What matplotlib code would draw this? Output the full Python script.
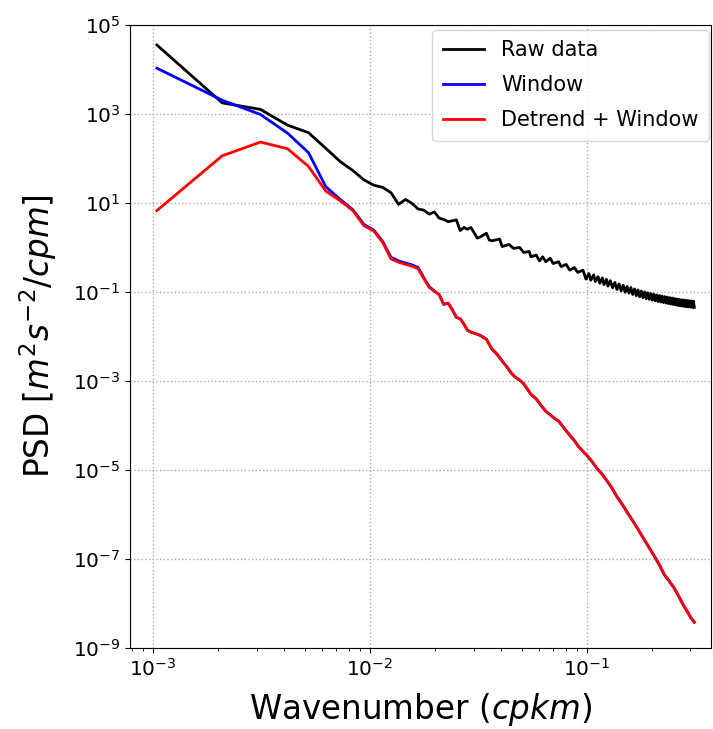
import numpy as np
import matplotlib
matplotlib.use("Agg")
import matplotlib.pyplot as plt
from matplotlib.ticker import NullLocator

# wavenumber spacing (cycles per km), spectra are given at index n
dk = 1.0 / 960.0

# raw data spectrum
raw_n = [1, 2, 3, 4, 5, 6, 7, 8, 9, 10, 11, 12, 13, 14, 15, 16, 17, 18, 19, 20,
         21, 22, 23, 24, 25, 26, 27, 28, 29, 30, 31, 33, 34, 35, 38, 39, 42, 44,
         47, 49, 52, 53, 56, 58, 60, 62, 65, 67, 71, 73, 77, 80, 84, 87, 92,
         95, 98, 100, 103, 105, 108, 110, 113, 115, 118, 120, 123, 126, 129,
         132, 135, 138, 141, 144, 147, 150,
         153, 156, 159, 162, 165, 168, 171, 174, 177, 180, 183, 186, 189, 192,
         195, 198, 201, 204, 207, 210, 213, 216, 219, 222, 225, 228, 231, 234,
         237, 240, 243, 246, 249, 252, 255, 258, 261, 264, 267, 270, 273, 276,
         279, 282, 285, 288, 291, 294, 297, 300]
raw_psd = [3.55e4, 1.78e3, 1.27e3, 5.62e2, 3.80e2, 1.70e2, 85.1, 53.7, 33.1, 25.1,
           22.4, 17.0, 9.33, 12.0, 9.77, 7.33, 6.92, 5.62, 6.31, 4.57,
           4.27, 3.80, 3.98, 4.17, 2.40, 2.82, 2.57, 2.82, 2.14, 1.62,
           1.74, 2.09, 1.48, 1.41, 1.55, 1.05, 1.17, 0.955,
           1.00, 0.776, 0.813, 0.617, 0.676, 0.501, 0.617, 0.479, 0.575, 0.437,
           0.479, 0.372, 0.417, 0.309, 0.355, 0.275, 0.309,
           0.195, 0.260, 0.184, 0.243, 0.172, 0.221, 0.157, 0.207, 0.146, 0.193,
           0.136, 0.180, 0.124, 0.164, 0.114, 0.151, 0.106, 0.141, 0.0989,
           0.133, 0.0944,
           0.126, 0.0881, 0.117, 0.0826, 0.111, 0.0782, 0.105, 0.0743, 0.100,
           0.0708, 0.0959, 0.0684, 0.0929, 0.0659, 0.0891, 0.0632, 0.0857,
           0.0612, 0.0834, 0.0596, 0.0811, 0.0579, 0.0789, 0.0564, 0.0767,
           0.0548, 0.0748, 0.0536, 0.0733, 0.0525, 0.0714, 0.0511, 0.0695,
           0.0498, 0.0681, 0.0490, 0.0670, 0.0482, 0.0659, 0.0473, 0.0650,
           0.0468, 0.0643, 0.0462, 0.0635, 0.0457, 0.0628, 0.0453, 0.0624, 0.0452]

# windowed spectra
win_n = [1, 2, 3, 4, 5, 6, 7, 8, 9, 10, 11, 12, 13, 14, 15, 16, 17, 18, 19, 20,
         21, 22, 23, 24, 25, 26, 27, 28, 30, 31, 33, 35, 37, 39, 41, 43, 45, 47,
         49, 51, 53, 56, 59, 62, 65, 68, 71, 74, 77, 80, 84, 88, 92, 97, 102,
         107, 113, 119, 125, 132, 140, 148, 156, 165, 175, 185, 196, 207, 218,
         230, 242, 255, 268, 280, 290, 300]
window_psd = [1.07e4, 2.04e3, 977, 372, 135, 23.4, 12.0, 7.08, 3.31, 2.45,
              1.35, 0.603, 0.501, 0.447, 0.407, 0.355, 0.209, 0.132, 0.105, 0.0871,
              0.0525, 0.0562, 0.0398, 0.0269, 0.0251, 0.0191, 0.0138, 0.0126,
              0.0112, 0.0105, 8.71e-3, 5.25e-3, 3.98e-3, 2.82e-3, 2.09e-3,
              1.51e-3, 1.20e-3, 1.05e-3, 8.71e-4, 6.61e-4, 5.01e-4, 3.98e-4,
              2.82e-4, 2.09e-4, 1.74e-4, 1.45e-4, 1.26e-4, 9.77e-5, 7.59e-5,
              6.03e-5, 4.57e-5, 3.31e-5, 2.63e-5, 2.00e-5, 1.48e-5, 1.07e-5,
              7.94e-6, 5.62e-6, 3.98e-6, 2.51e-6, 1.66e-6, 1.07e-6, 7.24e-7,
              4.68e-7, 2.88e-7, 1.86e-7, 1.17e-7, 7.41e-8, 4.47e-8, 3.16e-8,
              2.24e-8, 1.41e-8, 8.91e-9, 6.31e-9, 4.68e-9, 3.80e-9]
detrend_psd = [6.76, 115, 234, 166, 66.1, 18.6, 11.2, 6.76, 3.09, 2.34,
               1.29, 0.550, 0.468, 0.417, 0.380, 0.331, 0.200, 0.126, 0.105, 0.0871,
               0.0525, 0.0562, 0.0398, 0.0269, 0.0251, 0.0191, 0.0138, 0.0126,
               0.0112, 0.0105, 8.71e-3, 5.25e-3, 3.98e-3, 2.82e-3, 2.09e-3,
               1.51e-3, 1.20e-3, 1.05e-3, 8.71e-4, 6.61e-4, 5.01e-4, 3.98e-4,
               2.82e-4, 2.09e-4, 1.74e-4, 1.45e-4, 1.26e-4, 9.77e-5, 7.59e-5,
               6.03e-5, 4.57e-5, 3.31e-5, 2.63e-5, 2.00e-5, 1.48e-5, 1.07e-5,
               7.94e-6, 5.62e-6, 3.98e-6, 2.51e-6, 1.66e-6, 1.07e-6, 7.24e-7,
               4.68e-7, 2.88e-7, 1.86e-7, 1.17e-7, 7.41e-8, 4.47e-8, 3.16e-8,
               2.24e-8, 1.41e-8, 8.91e-9, 6.31e-9, 4.68e-9, 3.80e-9]

k_raw = np.array(raw_n) * dk
k_win = np.array(win_n) * dk

fig = plt.figure(figsize=(7.13, 7.29), dpi=100)
ax = fig.add_axes([130 / 713, 81 / 729, 581 / 713, 623 / 729])

ax.loglog(k_raw, raw_psd, color='black', lw=2, label='Raw data')
ax.loglog(k_win, window_psd, color='blue', lw=2, label='Window')
ax.loglog(k_win, detrend_psd, color='red', lw=2, label='Detrend + Window')

ax.set_xlim(7.83e-4, 0.373)
ax.set_ylim(1e-9, 1e5)
ax.set_yticks([1e-9, 1e-7, 1e-5, 1e-3, 1e-1, 1e1, 1e3, 1e5])
ax.yaxis.set_minor_locator(NullLocator())
ax.tick_params(labelsize=14.5)

ax.grid(True, which='major', linestyle=':', color='#aaaaaa', lw=1)
ax.set_xlabel('Wavenumber ($cpkm$)', fontsize=23.5, labelpad=8)
ax.set_ylabel('PSD [$m^2s^{-2}/cpm$]', fontsize=23.5, labelpad=10)
ax.legend(loc='upper right', bbox_to_anchor=(0.9966, 0.992), borderaxespad=0,
          fontsize=15, labelspacing=0.72, borderpad=0.5)

fig.savefig('out.png', dpi=100)
